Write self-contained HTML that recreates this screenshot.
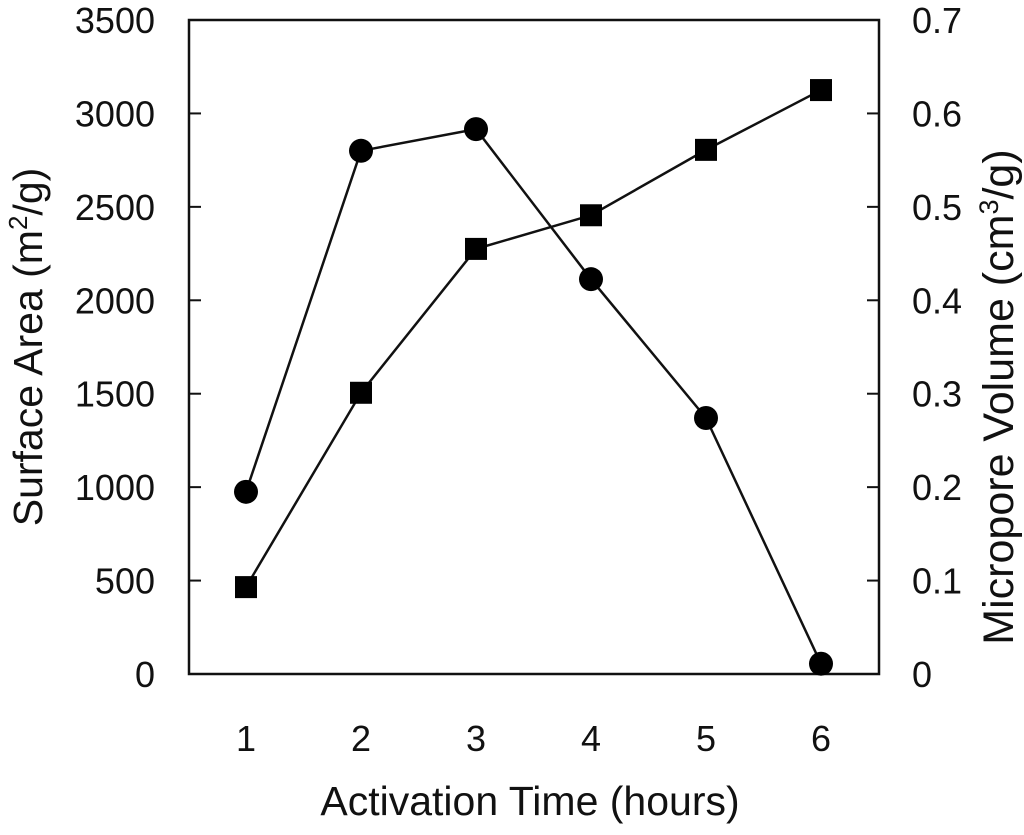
<!DOCTYPE html>
<html><head><meta charset="utf-8"><style>
html,body{margin:0;padding:0;background:#fff}
svg text{font-family:"Liberation Sans",Arial,sans-serif;fill:#111}
</style></head><body>
<svg id="chart" width="1024" height="830" xmlns="http://www.w3.org/2000/svg">
<rect x="189" y="20" width="690" height="654" fill="none" stroke="#111" stroke-width="2.5"/>
<g id="axes"></g><g id="series"></g>
<text x="42" y="347" font-size="41" text-anchor="middle" transform="rotate(-90 42 347)">Surface Area (m<tspan font-size="26" dy="-15">2</tspan><tspan dy="15">/g)</tspan></text>
<text x="1013" y="397" font-size="43" text-anchor="middle" transform="rotate(-90 1013 397)">Micropore Volume (cm<tspan font-size="27" dy="-15">3</tspan><tspan dy="15">/g)</tspan></text>
<text x="530" y="815" font-size="41" text-anchor="middle">Activation Time (hours)</text>
</svg>
<script>
const categories=[1,2,3,4,5,6];
const surfaceArea=[975,2800,2916,2113,1370,55];
const microVolume=[0.093,0.301,0.455,0.491,0.561,0.625];
const leftTicks=[0,500,1000,1500,2000,2500,3000,3500];
const rightTicks=["0","0.1","0.2","0.3","0.4","0.5","0.6","0.7"];
const NS="http://www.w3.org/2000/svg";
const X=v=>246+(v-1)*115;
const YL=v=>674-v*(654/3500);
const YR=v=>674-v*(654/0.7);
const ax=document.getElementById('axes'),se=document.getElementById('series');
function mk(t,a,p){const e=document.createElementNS(NS,t);for(const k in a)e.setAttribute(k,a[k]);p.appendChild(e);return e;}
leftTicks.forEach((v,i)=>{
 const y=YL(v);
 const l=mk('line',{x1:189,x2:201,y1:y,y2:y,stroke:'#111','stroke-width':2},ax);
 
 
 const t=mk('text',{x:155,y:y+13,'font-size':36,'text-anchor':'end'},ax);t.textContent=v;
 
 
 const yr=674-i*(654/7);
 const r=mk('line',{x1:867,x2:879,y1:yr,y2:yr,stroke:'#111','stroke-width':2},ax);
 
 
 const t2=mk('text',{x:912,y:yr+13,'font-size':36},ax);t2.textContent=rightTicks[i];
 
 
});
categories.forEach(c=>{
 const t=mk('text',{x:X(c),y:751,'font-size':36,'text-anchor':'middle'},ax);t.textContent=c;
 
 
});
const l1=mk('polyline',{points:categories.map((c,i)=>X(c)+','+YL(surfaceArea[i])).join(' '),fill:'none',stroke:'#111','stroke-width':2.5},se);


const l2=mk('polyline',{points:categories.map((c,i)=>X(c)+','+YR(microVolume[i])).join(' '),fill:'none',stroke:'#111','stroke-width':2.5},se);


categories.forEach((c,i)=>{
 const p=mk('circle',{cx:X(c),cy:YL(surfaceArea[i]),r:12,fill:'#000'},se);
 
 
 const s=mk('rect',{x:X(c)-11,y:YR(microVolume[i])-11,width:22,height:22,fill:'#000'},se);
 
 
});
</script>
</body></html>
